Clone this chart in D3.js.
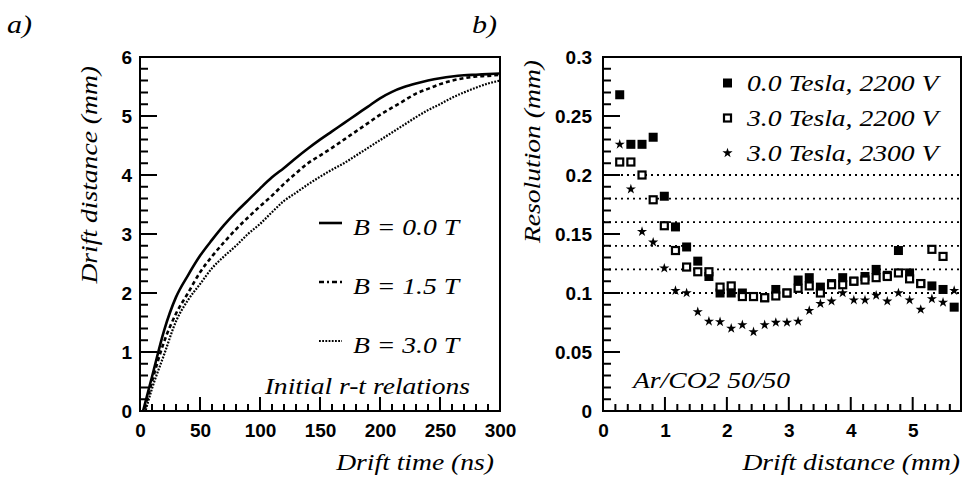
<!DOCTYPE html>
<html>
<head>
<meta charset="utf-8">
<script src="https://cdn.jsdelivr.net/npm/d3@7"></script>
<style>
  body { margin: 0; background: #fff; }
  .tick text { font-family: "Liberation Sans", Arial, sans-serif; font-weight: bold; font-size: 19px; fill: #000; }
  .lbl { font-family: "Liberation Serif", "Times New Roman", serif; font-style: italic; fill: #000; }
</style>
</head>
<body>
<svg id="chart" width="964" height="479"></svg>
<script>
// ---- panel a) : initial r-t relations ----
const rtTime   = [0, 10, 20, 30, 40, 50, 60, 70, 80, 90, 100, 110, 120, 130, 140, 150, 160, 170, 180, 190, 200, 210, 220, 230, 240, 250, 260, 270, 280, 290, 300];
const rtB00 = [-0.2, 0.58, 1.36, 1.93, 2.30, 2.63, 2.90, 3.15, 3.37, 3.57, 3.77, 3.96, 4.12, 4.29, 4.45, 4.60, 4.74, 4.88, 5.02, 5.16, 5.30, 5.41, 5.49, 5.55, 5.60, 5.64, 5.67, 5.69, 5.70, 5.71, 5.72];
const rtB15 = [-0.3, 0.50, 1.17, 1.65, 2.00, 2.35, 2.62, 2.86, 3.08, 3.28, 3.47, 3.65, 3.85, 4.03, 4.20, 4.33, 4.46, 4.60, 4.74, 4.88, 5.02, 5.14, 5.26, 5.38, 5.46, 5.54, 5.60, 5.64, 5.67, 5.68, 5.70];
const rtB30 = [-0.35, 0.38, 0.95, 1.52, 1.88, 2.15, 2.42, 2.62, 2.80, 3.00, 3.17, 3.37, 3.56, 3.70, 3.84, 3.97, 4.09, 4.20, 4.33, 4.46, 4.59, 4.72, 4.85, 4.98, 5.10, 5.20, 5.31, 5.40, 5.48, 5.55, 5.60];
const rtLegend = ['B = 0.0 T', 'B = 1.5 T', 'B = 3.0 T'];

// ---- panel b) : resolution vs drift distance ----
const resDist = [0.27, 0.45, 0.63, 0.81, 0.99, 1.17, 1.35, 1.53, 1.71, 1.89, 2.07, 2.25, 2.43, 2.61, 2.79, 2.97, 3.15, 3.33, 3.51, 3.69, 3.87, 4.05, 4.23, 4.41, 4.59, 4.77, 4.95, 5.13, 5.31, 5.49, 5.67];
const res00T2200 = [0.268, 0.226, 0.226, 0.232, 0.182, 0.156, 0.139, 0.127, 0.114, 0.100, 0.100, 0.100, 0.097, 0.096, 0.103, 0.100, 0.111, 0.113, 0.105, 0.108, 0.113, 0.110, 0.114, 0.120, 0.115, 0.136, 0.117, 0.108, 0.106, 0.103, 0.088];
const res30T2200 = [0.211, 0.211, 0.200, 0.179, 0.157, 0.136, 0.122, 0.118, 0.118, 0.105, 0.106, 0.097, 0.097, 0.096, 0.0975, 0.100, 0.104, 0.106, 0.100, 0.107, 0.107, 0.110, 0.111, 0.113, 0.114, 0.117, 0.112, 0.108, 0.137, 0.131, null];
const res30T2300 = [0.226, 0.188, 0.152, 0.143, 0.121, 0.102, 0.100, 0.084, 0.076, 0.0755, 0.070, 0.073, 0.067, 0.073, 0.075, 0.075, 0.076, 0.085, 0.091, 0.093, 0.100, 0.094, 0.094, 0.098, 0.093, 0.100, 0.094, 0.086, 0.095, 0.092, 0.102];
const resGrid = [0.10, 0.12, 0.14, 0.16, 0.18, 0.20];
const resLegend = ['0.0 Tesla, 2200 V', '3.0 Tesla, 2200 V', '3.0 Tesla, 2300 V'];

const svg = d3.select('#chart');

// italic serif label; the scanned font is ~20% wider than Liberation Serif
function label(sel, x, y, txt, size, anchor = 'start', rot = 0) {
    return sel.append('text').attr('class', 'lbl')
        .attr('transform', `translate(${x},${y}) rotate(${rot}) scale(1.2,1)`)
        .attr('text-anchor', anchor).attr('font-size', size).text(txt);
}

// frame + tick labels; tick marks are a single path drawn on top, inward on left and bottom
function drawFrame(g, x, y, opt) {
    const w = x.range()[1] - x.range()[0], h = y.range()[0] - y.range()[1];
    g.append('g').attr('transform', `translate(0,${h})`)
        .call(d3.axisBottom(x).tickValues(opt.xMajor).tickSize(0).tickPadding(13).tickFormat(opt.xFmt))
        .call(a => a.select('.domain').remove());
    g.append('g')
        .call(d3.axisLeft(y).tickValues(opt.yMajor).tickSize(0).tickPadding(opt.yPad).tickFormat(opt.yFmt))
        .call(a => a.select('.domain').remove());
    g.append('rect').attr('width', w).attr('height', h)
        .attr('fill', 'none').attr('stroke', '#000').attr('stroke-width', 2);

    const p = d3.path();
    opt.xMinor.forEach(v => { p.moveTo(x(v), h); p.lineTo(x(v), h - 7); });
    opt.xMajor.forEach(v => { p.moveTo(x(v), h); p.lineTo(x(v), h - 14); });
    opt.yMinor.forEach(v => { p.moveTo(0, y(v)); p.lineTo(8, y(v)); });
    opt.yMajor.forEach(v => { p.moveTo(0, y(v)); p.lineTo(17, y(v)); });
    g.append('path').attr('d', p.toString())
        .attr('fill', 'none').attr('stroke', '#000').attr('stroke-width', 2);
}

// ================= panel a =================
const ax = d3.scaleLinear().domain([0, 300]).range([0, 360]);
const ay = d3.scaleLinear().domain([0, 6]).range([354, 0]);
const ga = svg.append('g').attr('transform', 'translate(140,57)');

ga.append('clipPath').attr('id', 'clipA').append('rect').attr('width', 360).attr('height', 354);

const line = d3.line().x((d, i) => ax(rtTime[i])).y(d => ay(d)).curve(d3.curveMonotoneX);
const rtStyles = [
    { data: rtB00, dash: null, w: 2.6 },
    { data: rtB15, dash: '4 3', w: 2.6 },
    { data: rtB30, dash: '1.8 1.4', w: 2.2 }
];
ga.append('g').attr('clip-path', 'url(#clipA)')
    .selectAll('path').data(rtStyles).join('path')
    .attr('d', d => line(d.data))
    .attr('fill', 'none').attr('stroke', '#000')
    .attr('stroke-width', d => d.w)
    .attr('stroke-dasharray', d => d.dash);

drawFrame(ga, ax, ay, {
    xMajor: d3.range(0, 301, 50), xMinor: d3.range(0, 301, 10), xFmt: d3.format('d'),
    yMajor: d3.range(0, 7, 1), yMinor: d3.range(0, 6.01, 0.2), yFmt: d3.format('d'), yPad: 8
});

// legend a
rtLegend.forEach((t, i) => {
    const yy = 166 + i * 59;
    ga.append('line').attr('x1', 179).attr('x2', 202).attr('y1', yy).attr('y2', yy)
        .attr('stroke', '#000').attr('stroke-width', rtStyles[i].w)
        .attr('stroke-dasharray', i === 1 ? '5 3 2 3' : rtStyles[i].dash);
    label(ga, 213, yy + 12, t, 23);
});
label(ga, 330, 337, 'Initial r-t relations', 23, 'end');

// axis titles a
label(svg, 494, 470, 'Drift time (ns)', 23, 'end');
label(svg, 97, 66, 'Drift distance (mm)', 23, 'end', -90);
label(svg, 7, 33, 'a)', 25);
label(svg, 472, 33, 'b)', 25);

// ================= panel b =================
const bx = d3.scaleLinear().domain([0, 5.78]).range([0, 358]);
const by = d3.scaleLinear().domain([0, 0.3]).range([354, 0]);
const gb = svg.append('g').attr('transform', 'translate(603,57)');

gb.append('g').selectAll('line').data(resGrid).join('line')
    .attr('x1', 0).attr('x2', 358).attr('y1', d => by(d)).attr('y2', d => by(d))
    .attr('stroke', '#000').attr('stroke-width', 1.8).attr('stroke-dasharray', '2 4');

drawFrame(gb, bx, by, {
    xMajor: d3.range(0, 6, 1), xMinor: d3.range(0, 5.7, 0.2), xFmt: d3.format('d'),
    yMajor: [0, 0.05, 0.1, 0.15, 0.2, 0.25, 0.3], yMinor: d3.range(0, 0.301, 0.01),
    yFmt: d => d === 0 ? '0' : d3.format('.2~f')(d), yPad: 11
});

const pts = (arr) => arr.map((v, i) => ({ x: resDist[i], y: v })).filter(d => d.y != null);
const sq = 9;
gb.append('g').selectAll('rect').data(pts(res00T2200)).join('rect')
    .attr('x', d => bx(d.x) - sq / 2).attr('y', d => by(d.y) - sq / 2)
    .attr('width', sq).attr('height', sq).attr('fill', '#000');
gb.append('g').selectAll('rect').data(pts(res30T2200)).join('rect')
    .attr('x', d => bx(d.x) - sq / 2 + 1).attr('y', d => by(d.y) - sq / 2 + 1)
    .attr('width', sq - 2).attr('height', sq - 2)
    .attr('fill', '#fff').attr('stroke', '#000').attr('stroke-width', 2.2);
const star = d3.symbol().type(d3.symbolStar).size(32);
gb.append('g').selectAll('path').data(pts(res30T2300)).join('path')
    .attr('transform', d => `translate(${bx(d.x)},${by(d.y)})`)
    .attr('d', star).attr('fill', '#000');

// legend b
resLegend.forEach((t, i) => {
    const yy = 26 + i * 35;
    if (i === 0) gb.append('rect').attr('x', 120).attr('y', yy - sq / 2).attr('width', sq).attr('height', sq).attr('fill', '#000');
    if (i === 1) gb.append('rect').attr('x', 121).attr('y', yy - sq / 2 + 1).attr('width', sq - 2).attr('height', sq - 2)
        .attr('fill', '#fff').attr('stroke', '#000').attr('stroke-width', 2.2);
    if (i === 2) gb.append('path').attr('transform', `translate(124.5,${yy})`).attr('d', star).attr('fill', '#000');
    label(gb, 144, yy + 8, t, 23);
});
label(gb, 30, 331, 'Ar/CO2 50/50', 23);

label(svg, 960, 470, 'Drift distance (mm)', 23, 'end');
label(svg, 540, 60, 'Resolution (mm)', 23, 'end', -90);
</script>
</body>
</html>
